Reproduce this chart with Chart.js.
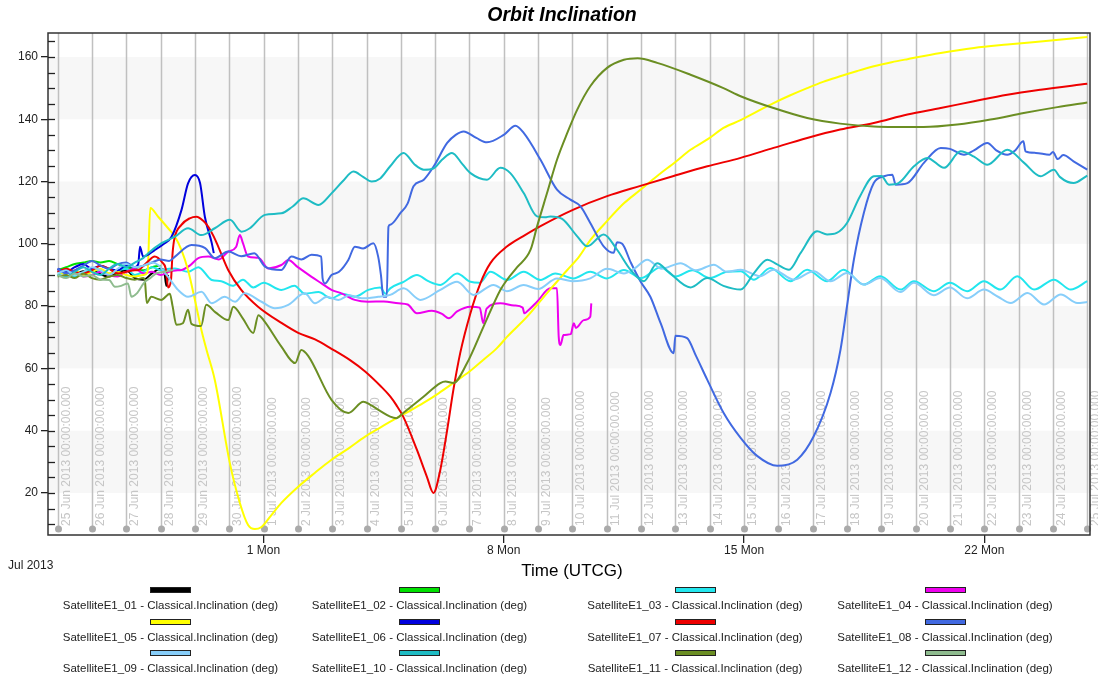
<!DOCTYPE html>
<html><head><meta charset="utf-8">
<script src="https://cdn.jsdelivr.net/npm/chart.js@4.4.1/dist/chart.umd.min.js"></script>
<style>
html,body{margin:0;padding:0;background:#fff;}
#wrap{position:relative;width:1098px;height:679px;overflow:hidden;}
#c{position:absolute;left:0;top:0;}
.lg{position:absolute;width:300px;text-align:center;font:11.5px "Liberation Sans",Arial,sans-serif;color:#222;line-height:14px;white-space:nowrap;}
.bx{position:absolute;width:39px;height:4px;border:1px solid #222;}
</style></head><body>
<div id="wrap"><canvas id="c" width="1098" height="679"></canvas><div id="legend"></div></div>
<script>
// ---- data (x = days since 25 Jun 2013 00:00 UTCG, y = inclination deg) ----
const chartTitle = 'Orbit Inclination';
const dayLabels = ['25 Jun','26 Jun','27 Jun','28 Jun','29 Jun','30 Jun','1 Jul','2 Jul','3 Jul','4 Jul','5 Jul','6 Jul','7 Jul','8 Jul','9 Jul','10 Jul','11 Jul','12 Jul','13 Jul','14 Jul','15 Jul','16 Jul','17 Jul','18 Jul','19 Jul','20 Jul','21 Jul','22 Jul','23 Jul','24 Jul','25 Jul'];
const mondayTicks = [6,13,20,27];
const mondayLabels = ['1 Mon','8 Mon','15 Mon','22 Mon'];
const yTickValues = [20,40,60,80,100,120,140,160];

const sat01 = [[0,91],[0.25,91.8],[0.5,90.5],[0.75,91.2],[1,92],[1.25,90.2],[1.5,89.5],[1.75,90.8],[2,91.5],[2.25,89],[2.5,88.5],[2.75,90.5],[3,92],[3.1,91.5],[3.17,86.5],[3.22,90]];
const sat02 = [[0,91.5],[0.25,92.5],[0.5,93.5],[0.75,94],[1,94.5],[1.25,94],[1.5,94.5],[1.75,93.5],[2,92.5],[2.25,92],[2.5,91.5],[2.75,92.5],[3,93]];
const sat03 = [[0,90],[0.25,91],[0.5,89.5],[0.75,90.5],[1,92],[1.25,91],[1.5,90.5],[1.75,91.5],[2,92],[2.25,90],[2.5,91],[2.75,92.5],[3,91.5],[3.25,92],[3.42,92.1],[3.8,91],[4.1,92.5],[4.49,88.4],[4.77,88],[5.1,86.5],[5.4,88.5],[5.7,86],[6,87.5],[6.52,85.2],[6.9,86.5],[7.2,84],[7.6,84.5],[7.98,82.5],[8.3,84],[8.66,83],[9.05,85.2],[9.4,86],[9.55,84],[9.69,85.7],[10.08,87.8],[10.47,90],[10.8,88],[11.15,86.8],[11.64,90.5],[12.03,87.8],[12.3,87.5],[12.61,91],[13.1,88.4],[13.58,91],[14.07,88.4],[14.5,90.5],[15.03,88.9],[15.52,91],[16,88.9],[16.5,91.6],[17,89],[17.57,92.5],[18,89.5],[18.5,91.5],[19,89],[19.5,91],[19.9,91.2],[20.29,88.5],[20.77,92.2],[21.35,88],[21.84,91.7],[22.42,88],[22.9,91.7],[23.49,86.9],[23.97,89.6],[24.56,85.3],[24.95,88],[25.53,84.8],[26,87.5],[26.5,84.8],[26.99,88],[27.47,85.3],[27.96,89.6],[28.45,85.3],[29.03,88.5],[29.52,85.3],[30,88]];
const sat04 = [[0,91.5],[0.25,90.5],[0.5,91.5],[0.75,89.5],[1,90],[1.25,91],[1.5,90],[1.75,89.5],[2,91],[2.25,92],[2.5,90.5],[2.75,91],[3,90],[3.25,91],[3.5,91.5],[3.61,91.6],[3.85,93],[4.1,95.4],[4.39,95.9],[4.7,95],[4.97,97.5],[5.2,99],[5.31,102.8],[5.4,100.2],[5.55,95.9],[5.85,95.5],[6.14,92.1],[6.52,93.2],[6.72,94.8],[7,92.5],[7.4,89.4],[7.69,87.3],[7.98,85.2],[8.27,84.1],[8.66,82],[9.05,81.4],[9.5,81.5],[9.93,80.9],[10.2,80.5],[10.47,77.7],[10.9,78.5],[11.2,77.5],[11.4,76.1],[11.64,78.3],[12.03,79.8],[12.3,79.5],[12.4,74.5],[12.5,79.2],[12.9,80.9],[13.3,80.2],[13.55,79.5],[13.6,77.7],[13.7,78.5],[13.97,81.4],[14.36,85.7],[14.55,85.7],[14.6,70.2],[14.65,67.5],[14.74,70.7],[14.95,71],[15.04,74.5],[15.1,73],[15.33,75.5],[15.52,76.6],[15.55,80.9]];
const sat05 = [[0,91],[0.25,90.5],[0.5,91.5],[0.75,90],[1,91],[1.25,92],[1.5,90.5],[1.75,91],[2,90],[2.25,89.5],[2.5,90],[2.62,91],[2.7,111.5],[2.93,108.7],[3.22,105],[3.42,102.3],[3.61,98],[3.8,91.6],[4,82],[4.19,72.3],[4.34,65.9],[4.58,56.3],[5.02,29.5],[5.31,16.8],[5.55,9.7],[5.75,8.4],[5.93,9],[6.2,12.5],[6.52,16.8],[7.01,22],[7.5,26.5],[7.97,30.6],[8.5,34.5],[8.96,38.1],[9.4,41],[9.87,44],[10.3,46.6],[10.66,48.9],[11.1,52],[11.53,55.3],[12,59],[12.4,62.7],[12.8,66.5],[13.1,70.2],[13.68,76.6],[14.26,84.2],[14.85,91.6],[15.2,96],[15.52,101.2],[16,107.2],[16.5,113],[17,117.5],[17.47,121.8],[18,126.3],[18.44,130.2],[19,134],[19.4,137.2],[19.9,139.7],[20.4,142.6],[20.86,145.2],[21.35,147.7],[21.84,150],[22.3,152],[22.8,153.8],[23.3,155.5],[23.78,157],[24.3,158.3],[24.76,159.3],[25.73,161.3],[26.7,162.9],[27.67,164],[28.64,165],[30,166.4]];
const sat06 = [[0,92],[0.25,91],[0.5,92.5],[0.75,93.5],[1,92],[1.25,93],[1.5,92],[1.75,91.5],[2,93],[2.25,92.5],[2.35,93.5],[2.4,99.1],[2.49,95.9],[2.83,98],[3.1,100],[3.32,102.3],[3.61,110.9],[3.8,119.4],[4,122.1],[4.15,119.5],[4.29,108.7],[4.49,100.3],[4.55,97]];
const sat07 = [[0,91],[0.25,92],[0.5,91],[0.75,90.5],[1,91.5],[1.25,93],[1.5,92],[1.75,90.5],[2,91],[2.25,91.5],[2.35,91.6],[2.6,94],[2.83,95.9],[3.05,94],[3.15,92],[3.22,86],[3.3,88],[3.35,97],[3.4,101.5],[3.6,106],[3.85,108.2],[4.05,108.7],[4.25,107.3],[4.39,105.5],[4.55,102.3],[4.68,99.1],[4.97,91.6],[5.35,85.2],[5.84,79.8],[6.52,74.6],[7.01,71.4],[7.5,69.3],[7.98,66.3],[8.5,62.8],[8.96,59],[9.43,54.1],[9.69,51],[9.87,48.2],[10.07,44.5],[10.47,33.8],[10.76,25.2],[10.95,20],[11.15,27.4],[11.35,40.2],[11.53,53],[11.73,64.9],[12.03,77.8],[12.32,87.4],[12.61,93.8],[13.1,99.2],[13.57,102.5],[14.07,105.7],[15.03,111],[16.01,115.3],[16.98,118.6],[17.95,121.8],[18.93,124.9],[19.9,127.6],[20.86,130.8],[21.84,134],[22.8,136.7],[23.78,138.8],[24.76,141.5],[25.73,143.6],[26.7,145.8],[27.67,147.9],[28.64,149.5],[30,151.4]];
const sat08 = [[0,92],[0.25,90.5],[0.5,91.5],[0.75,93],[1,94.5],[1.25,93],[1.5,92],[1.75,93.5],[2,94],[2.25,92.5],[2.5,93],[2.75,94],[3,95],[3.25,94.5],[3.42,95.9],[3.9,99.6],[4.3,98.6],[4.58,95.4],[4.97,97.5],[5.35,96],[5.73,97],[6.04,92.7],[6.52,91.6],[6.81,95.9],[7.1,95],[7.4,96.5],[7.68,95.9],[7.72,89],[7.79,87.3],[7.98,90],[8.2,91],[8.47,94.8],[8.66,99.1],[8.9,98.5],[9.2,100.2],[9.34,95.9],[9.42,90],[9.49,83],[9.59,83],[9.64,105.5],[9.69,106.1],[9.99,109.9],[10.2,113],[10.37,118.5],[10.67,120.6],[10.96,124.9],[11.35,132.4],[11.6,135],[11.83,136.1],[12.2,134],[12.51,132.6],[13,135],[13.34,137.9],[13.58,135.6],[14.07,127],[14.55,117.4],[14.94,114.2],[15.23,112.1],[15.52,106.7],[15.91,99.2],[16.2,97.1],[16.3,100.5],[16.45,100],[16.7,94],[16.98,88],[17.27,83],[17.57,74.5],[17.95,64.9],[18,70.5],[18.34,69.7],[18.6,64],[18.93,56.3],[19.41,45.6],[19.9,37.7],[20.38,31.9],[20.97,28.7],[21.55,30.7],[22.03,38.2],[22.52,52.1],[22.81,66],[23,80],[23.2,94.9],[23.49,109.9],[23.78,119.5],[24.08,121.7],[24.32,122.2],[24.42,119],[24.76,119.5],[25.24,126],[25.73,130.8],[26,130.5],[26.41,128.6],[26.7,130],[27.09,132.4],[27.35,130],[27.67,128.6],[27.9,130],[28.14,132.9],[28.2,129.7],[28.5,129.2],[28.9,128.6],[29,129.5],[29.14,127.2],[29.3,128.5],[29.6,126.5],[30,123.8]];
const sat09 = [[0,90.5],[0.25,91.5],[0.5,90],[0.75,91],[1,92.5],[1.25,91.5],[1.5,90],[1.75,92],[2,93.5],[2.25,92.5],[2.5,93],[2.75,94],[2.93,93.2],[3.22,89.4],[3.51,85.2],[3.8,83],[4.19,84.6],[4.49,80.9],[4.87,83],[5.17,81.4],[5.45,84.1],[5.94,81.4],[6.33,79.3],[6.72,80.4],[7.2,84.1],[7.5,80.9],[7.85,83],[8.18,82],[8.5,83.5],[8.86,82.5],[9.34,83],[9.69,83.6],[10.08,85.7],[10.57,82],[11.15,85.2],[11.64,87.8],[12.12,83.6],[12.7,86.8],[13.09,84.8],[13.58,86.8],[14,85.5],[14.55,88.9],[15,88],[15.52,88.9],[16.01,92],[16.5,90.5],[16.8,92],[17.18,94.9],[17.6,92],[18.15,93.8],[18.6,91.5],[19.12,93.3],[19.5,91],[19.9,91.7],[20.47,89.6],[20.86,91.7],[21.45,88.5],[22.03,91.2],[22.52,88],[23,90.6],[23.49,86.9],[23.97,89],[24.56,84.5],[24.95,87.5],[25.53,83.5],[26,86],[26.5,82.5],[26.99,85.3],[27.4,83],[27.77,81],[28.26,84.2],[28.74,80.5],[29.23,83.7],[29.71,81],[30,81.3]];
const sat10 = [[0,90],[0.25,89.5],[0.5,91],[0.75,92.5],[1,91],[1.25,90],[1.5,92],[1.75,93.5],[2,92.5],[2.25,94],[2.5,95.5],[2.64,97],[3.03,100.2],[3.42,102.3],[3.8,105],[4.19,102.8],[4.58,105],[5.02,107.7],[5.36,103.9],[5.6,105],[6.04,109.3],[6.52,109.8],[6.85,112],[7.16,114.6],[7.6,112.5],[7.98,116.2],[8.3,120],[8.62,123.2],[8.9,121.5],[9.15,120],[9.4,121],[9.69,124.9],[10.08,129.2],[10.4,125.5],[10.67,123.8],[10.95,124.2],[11.2,127],[11.49,129.2],[11.8,125.5],[12.03,122.7],[12.51,120.6],[12.9,124.4],[13.19,122.7],[13.58,116.3],[13.97,108.8],[14.2,108.5],[14.36,108.8],[14.7,108],[15.14,102.4],[15.43,99.2],[15.91,103],[16.3,98.1],[16.69,91.7],[17.08,88],[17.47,93.8],[17.8,91],[18.44,86],[18.93,89],[19.4,86.5],[19.9,85.3],[20.29,90.6],[20.68,94.9],[20.95,93.5],[21.31,91.7],[21.65,97.1],[22.13,104],[22.42,103],[22.7,103.5],[23,106.7],[23.38,115.3],[23.78,121.7],[24,121.8],[24.22,119],[24.5,119.5],[24.95,124.9],[25.34,127.6],[25.83,124.4],[26.31,129.7],[26.7,128],[27.09,125.4],[27.67,130.2],[28.16,126],[28.64,121.7],[29.03,123.8],[29.2,121.5],[29.6,119.5],[30,121.9]];
const sat11 = [[0,89.5],[0.25,90],[0.5,89],[0.75,90.5],[1,89],[1.25,88.5],[1.5,89.5],[1.75,90],[2,89],[2.25,88.5],[2.5,89],[2.54,88.4],[2.6,81],[2.73,83],[3.02,82],[3.27,84],[3.35,80],[3.46,74],[3.65,74.5],[3.8,78.8],[3.9,74.3],[4.18,73.6],[4.33,80.4],[4.6,78],[4.97,75.5],[5.12,79.8],[5.4,76],[5.7,71.4],[5.85,77.1],[6,75.5],[6.52,67],[6.92,61.7],[7.1,65.9],[7.3,64],[7.98,49.9],[8.47,45.7],[8.91,49.3],[9.1,48.4],[9.43,46.1],[9.69,44.5],[9.87,44],[10.07,45.7],[10.66,50.9],[11.15,55.3],[11.3,55.8],[11.53,55.3],[11.93,61.7],[12.41,73.4],[12.9,85.2],[13.1,88.5],[13.39,92.5],[13.78,98.1],[13.97,105.6],[14.26,116.3],[14.55,127],[14.85,135.6],[15.14,143.1],[15.52,150.6],[16.01,156.5],[16.5,159.1],[16.9,159.6],[17.47,158.1],[18.44,154.3],[19.4,150],[19.9,147.4],[20.86,143.6],[21.84,140.4],[22.8,138.6],[23.78,137.7],[25.23,137.5],[26.21,138.3],[27.18,139.9],[28.15,142],[29.13,143.9],[30,145.4]];
const sat12 = [[0,90],[0.25,89],[0.5,90.5],[0.75,89.5],[1,90],[1.25,88.5],[1.5,88.4],[1.67,86.2],[1.85,86.5],[2.05,87.3],[2.15,83],[2.3,84],[2.54,87.8],[2.7,89],[2.89,90.6],[3.1,91],[3.37,91.6]];

const seriesNames = ['SatelliteE1_01','SatelliteE1_02','SatelliteE1_03','SatelliteE1_04','SatelliteE1_05','SatelliteE1_06','SatelliteE1_07','SatelliteE1_08','SatelliteE1_09','SatelliteE1_10','SatelliteE1_11','SatelliteE1_12'];
const seriesData = [sat01,sat02,sat03,sat04,sat05,sat06,sat07,sat08,sat09,sat10,sat11,sat12];
const seriesColors = ['#000000','#00e000','#22e6ee','#ee00ee','#ffff00','#0000dd','#ee0000','#4169e1','#87cefa','#1ebcc4','#6b8e23','#8fbc8f'];
const legendSuffix = ' - Classical.Inclination (deg)';

// ---- styling ----
const FONT = '"Liberation Sans", Arial, sans-serif';
const bandRanges = [[20,40],[60,80],[100,120],[140,160]];

const deco = {
  id: 'deco',
  beforeDatasetsDraw(chart) {
    const {ctx, chartArea: a, scales: {x, y}} = chart;
    ctx.save();
    ctx.fillStyle = '#f7f7f7';
    bandRanges.forEach(([lo, hi]) => {
      const t = y.getPixelForValue(hi), b = y.getPixelForValue(lo);
      ctx.fillRect(a.left, t, a.right - a.left, b - t);
    });
    dayLabels.forEach((lab, i) => {
      const px = Math.round(x.getPixelForValue(i)) + 0.5;
      ctx.strokeStyle = '#c0c0c0';
      ctx.lineWidth = 1.5;
      ctx.beginPath(); ctx.moveTo(px, a.top); ctx.lineTo(px, a.bottom - 6); ctx.stroke();
      ctx.fillStyle = '#aaaaaa';
      ctx.beginPath(); ctx.arc(px, a.bottom - 6, 3.5, 0, Math.PI * 2); ctx.fill();
      ctx.save();
      ctx.translate(px + 8, a.bottom - 9);
      ctx.rotate(-Math.PI / 2);
      ctx.fillStyle = '#c6c6c6';
      ctx.font = '12px ' + FONT;
      ctx.textAlign = 'left';
      ctx.textBaseline = 'middle';
      ctx.fillText(lab + ' 2013 00:00:00.000', 0, 0);
      ctx.restore();
    });
    ctx.restore();
  },
  afterDraw(chart) {
    const {ctx, chartArea: a, scales: {y}} = chart;
    ctx.save();
    ctx.strokeStyle = '#333';
    ctx.lineWidth = 1.5;
    ctx.strokeRect(a.left, a.top, a.right - a.left, a.bottom - a.top);
    ctx.strokeStyle = '#222';
    ctx.lineWidth = 1.3;
    for (let v = 10; v <= 165; v += 5) {
      const py = Math.round(y.getPixelForValue(v)) + 0.5;
      ctx.beginPath(); ctx.moveTo(a.left, py); ctx.lineTo(a.left + 7, py); ctx.stroke();
    }
    ctx.fillStyle = '#222';
    ctx.font = '12px ' + FONT;
    ctx.textAlign = 'left'; ctx.textBaseline = 'middle';
    ctx.fillText('Jul 2013', 8, 566);
    ctx.fillStyle = '#000';
    ctx.font = '17px ' + FONT;
    ctx.textAlign = 'center';
    ctx.fillText('Time (UTCG)', 572, 571);
    ctx.font = 'italic bold 19.5px ' + FONT;
    ctx.fillText(chartTitle, 562, 16);
    ctx.restore();
  }
};

const datasets = seriesData.map((pts, i) => ({
  label: seriesNames[i] + legendSuffix,
  data: pts.map(p => ({x: p[0], y: p[1]})),
  borderColor: seriesColors[i],
  backgroundColor: seriesColors[i],
  borderWidth: 2,
  pointRadius: 0,
  fill: false,
  cubicInterpolationMode: 'monotone',
  order: seriesData.length - i
}));

new Chart(document.getElementById('c'), {
  type: 'line',
  data: {datasets},
  options: {
    responsive: false,
    animation: false,
    events: [],
    layout: {padding: {left: 0, right: 8, top: 33, bottom: 0}},
    plugins: {
      legend: {display: false},
      tooltip: {enabled: false},
      title: {display: false}
    },
    scales: {
      x: {
        type: 'linear', min: -0.28, max: 30.08,
        afterBuildTicks: sc => { sc.ticks = mondayTicks.map(v => ({value: v})); },
        afterFit: sc => { sc.height = 144; },
        border: {display: false},
        grid: {drawOnChartArea: false, drawTicks: true, tickLength: 8, color: '#222', lineWidth: 1.3},
        ticks: {autoSkip: false, maxRotation: 0, padding: 0, color: '#222', font: {family: FONT, size: 12},
          callback: v => { const k = mondayTicks.indexOf(v); return k >= 0 ? mondayLabels[k] : ''; }}
      },
      y: {
        type: 'linear', min: 6.5, max: 167.7,
        afterBuildTicks: sc => { sc.ticks = yTickValues.map(v => ({value: v})); },
        afterFit: sc => { sc.width = 48; },
        border: {display: false},
        grid: {drawOnChartArea: false, drawTicks: true, tickLength: 7, color: '#222', lineWidth: 1.3},
        ticks: {padding: 3, color: '#222', font: {family: FONT, size: 12}}
      }
    }
  },
  plugins: [deco]
});

// HTML legend: 4 columns x 3 rows, box above text
const legendCols = [170.5, 419.5, 695, 945];
const legendBoxTop = [587, 619, 650];
const legendTextMid = [605, 637, 668];
const lg = document.getElementById('legend');
seriesNames.forEach((n, i) => {
  const col = i % 4, row = Math.floor(i / 4);
  const bx = document.createElement('div');
  bx.className = 'bx';
  bx.style.left = (legendCols[col] - 20.5) + 'px';
  bx.style.top = legendBoxTop[row] + 'px';
  bx.style.background = seriesColors[i];
  lg.appendChild(bx);
  const t = document.createElement('div');
  t.className = 'lg';
  t.style.left = (legendCols[col] - 150) + 'px';
  t.style.top = (legendTextMid[row] - 7) + 'px';
  t.textContent = n + legendSuffix;
  lg.appendChild(t);
});
</script>
</body></html>
